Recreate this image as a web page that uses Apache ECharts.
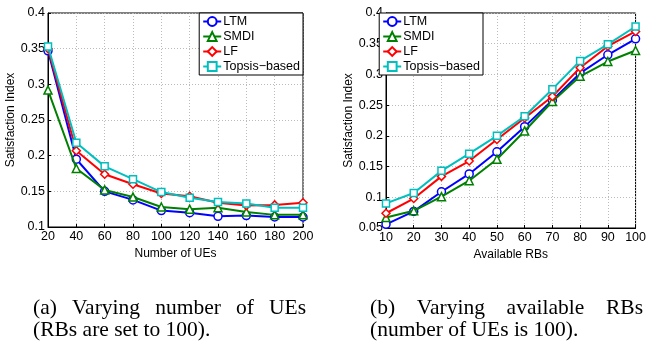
<!DOCTYPE html>
<html>
<head>
<meta charset="utf-8">
<script src="https://cdn.jsdelivr.net/npm/echarts@6/dist/echarts.min.js"></script>
<style>
  html, body { margin: 0; padding: 0; background: #fff; }
  #chart { width: 649px; height: 343px; }
</style>
</head>
<body>
<div id="chart"></div>
<script>
// (a) varying number of UEs
const ueCounts = [20, 40, 60, 80, 100, 120, 140, 160, 180, 200];
const ltmA    = [0.347, 0.195, 0.150, 0.138, 0.123, 0.120, 0.115, 0.116, 0.114, 0.114];
const smdiA   = [0.292, 0.182, 0.152, 0.142, 0.128, 0.125, 0.127, 0.121, 0.117, 0.117];
const lfA     = [0.350, 0.207, 0.174, 0.160, 0.147, 0.143, 0.134, 0.130, 0.131, 0.134];
const topsisA = [0.353, 0.218, 0.185, 0.167, 0.149, 0.141, 0.135, 0.133, 0.127, 0.127];

// (b) varying available RBs
const rbCounts = [10, 20, 30, 40, 50, 60, 70, 80, 90, 100];
const ltmB    = [0.056, 0.077, 0.109, 0.138, 0.174, 0.215, 0.258, 0.302, 0.332, 0.358];
const smdiB   = [0.067, 0.078, 0.101, 0.127, 0.162, 0.208, 0.256, 0.297, 0.321, 0.339];
const lfB     = [0.074, 0.098, 0.134, 0.159, 0.194, 0.229, 0.264, 0.311, 0.346, 0.370];
const topsisB = [0.090, 0.107, 0.143, 0.171, 0.200, 0.232, 0.276, 0.322, 0.349, 0.378];

const seriesNames = ["LTM", "SMDI", "LF", "Topsis\u2212based"];
const captionA = ["(a) Varying number of UEs", "(RBs are set to 100)."];
const captionB = ["(b) Varying available RBs", "(number of UEs is 100)."];

const colors = ["#0000ff", "#008000", "#ff0000", "#00bfbf"];
const symbols = ["circle", "triangle", "diamond", "rect"];
const font = "Liberation Sans, Arial, sans-serif";
const capFont = "21.5px 'Liberation Serif', 'Times New Roman', serif";

const chart = echarts.init(document.getElementById("chart"));

function pairs(xs, ys) {
    return xs.map((x, i) => [x, ys[i]]);
}

function makeSeries(data, idx) {
    return data.map((ys, k) => ({
        name: seriesNames[k],
        type: "line",
        xAxisIndex: idx,
        yAxisIndex: idx,
        data: pairs(idx === 0 ? ueCounts : rbCounts, ys),
        symbol: symbols[k],
        symbolSize: k === 3 ? 7 : 8,
        showSymbol: true,
        color: colors[k],
        lineStyle: { width: 2, color: colors[k] },
        itemStyle: { color: "#fff", borderColor: colors[k], borderWidth: 1.5 },
        animation: false,
        z: 2 + k,
    }));
}

function xAxis(idx, min, max, interval, name) {
    return {
        type: "value",
        gridIndex: idx,
        min, max, interval,
        name,
        nameLocation: "middle",
        nameGap: 13,
        nameTextStyle: { fontFamily: font, fontSize: 12, color: "#000" },
        axisLine: { show: true, lineStyle: { color: "#000", width: 1 } },
        axisTick: { show: true, inside: true, length: 3, lineStyle: { color: "#000" } },
        axisLabel: { fontFamily: font, fontSize: 12.5, color: "#000", margin: 3 },
        splitLine: { show: true, lineStyle: { color: "#bbb", type: [1, 2], width: 1 } },
    };
}

function yAxis(idx, min, max, gap) {
    return {
        type: "value",
        gridIndex: idx,
        min, max, interval: 0.05,
        name: "Satisfaction Index",
        nameLocation: "middle",
        nameGap: gap,
        nameTextStyle: { fontFamily: font, fontSize: 12, color: "#000" },
        axisLine: { show: true, lineStyle: { color: "#000", width: 1 } },
        axisTick: { show: true, inside: true, length: 3, lineStyle: { color: "#000" } },
        axisLabel: {
            fontFamily: font, fontSize: 12.5, color: "#000", margin: 3,
            formatter: (v) => String(Math.round(v * 100) / 100),
        },
        splitLine: { show: true, lineStyle: { color: "#bbb", type: [1, 2], width: 1 } },
    };
}

function legend(idx, right) {
    return {
        data: seriesNames,
        orient: "vertical",
        right, top: 13,
        backgroundColor: "#fff",
        borderColor: "#000",
        borderWidth: 1,
        borderRadius: 0,
        padding: [2, 3, 2, 3],
        itemGap: 2,
        itemWidth: 18,
        itemHeight: 11,
        textStyle: { fontFamily: font, fontSize: 12.5, color: "#000", padding: [0, 0, 0, -3] },
        selectedMode: false,
        seriesIndex: idx,
    };
}

// spread the words of a caption line between left and right, like justified LaTeX text
const measureCtx = document.createElement("canvas").getContext("2d");
measureCtx.font = capFont;

function justified(text, left, right, y) {
    const words = text.split(" ");
    const widths = words.map((w) => measureCtx.measureText(w).width);
    const total = widths.reduce((a, b) => a + b, 0);
    const gap = (right - left - total) / (words.length - 1);
    let x = left;
    return words.map((w, i) => {
        const el = {
            type: "text", x, y,
            style: { text: w, font: capFont, fill: "#000", verticalAlign: "middle" },
        };
        x += widths[i] + gap;
        return el;
    });
}

function plain(text, left, y) {
    return [{
        type: "text", x: left, y,
        style: { text, font: capFont, fill: "#000", verticalAlign: "middle" },
    }];
}

const option = {
    backgroundColor: "#fff",
    animation: false,
    grid: [
        { left: 48, top: 13, width: 255, height: 214, show: true, borderColor: "#000", borderWidth: 1, backgroundColor: "#fff" },
        { left: 386, top: 13, width: 257, height: 215, show: true, borderColor: "#000", borderWidth: 1, backgroundColor: "#fff" },
    ],
    xAxis: [
        xAxis(0, 20, 200, 20, "Number of UEs"),
        xAxis(1, 10, 100, 10, "Available RBs"),
    ],
    yAxis: [
        yAxis(0, 0.1, 0.4, 29),
        yAxis(1, 0.05, 0.4, 28),
    ],
    legend: [legend(0, 346), legend(1, 166)],
    series: [
        ...makeSeries([ltmA, smdiA, lfA, topsisA], 0),
        ...makeSeries([ltmB, smdiB, lfB, topsisB], 1),
    ],
    graphic: [
        ...justified(captionA[0], 33, 306, 308),
        ...plain(captionA[1], 33, 330),
        ...justified(captionB[0], 370, 643, 308),
        ...plain(captionB[1], 370, 330),
    ],
};

chart.setOption(option);
</script>
</body>
</html>
